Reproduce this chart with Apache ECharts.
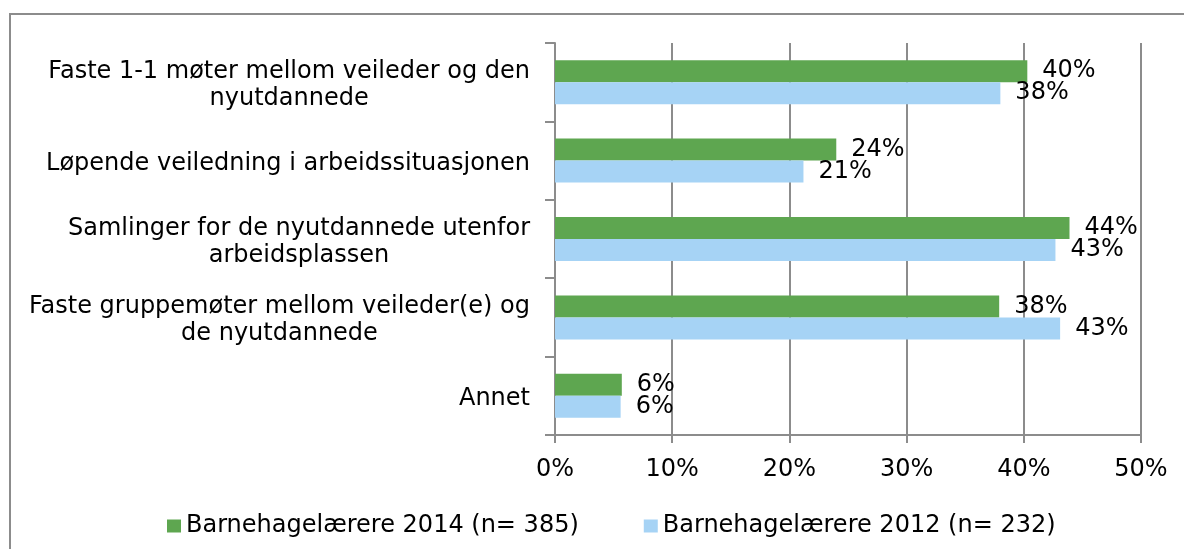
<!DOCTYPE html>
<html>
<head>
<meta charset="utf-8">
<script src="https://cdn.jsdelivr.net/npm/echarts@6/dist/echarts.min.js"></script>
<style>
  html, body { margin: 0; padding: 0; background: #fff; }
  #chart { width: 1184px; height: 549px; }
</style>
</head>
<body>
<div id="chart"></div>
<script>
// kategorier, ovenfra og ned
const categories = [
  'Faste 1-1 møter mellom veileder og den\nnyutdannede',
  'Løpende veiledning i arbeidssituasjonen',
  'Samlinger for de nyutdannede utenfor\narbeidsplassen',
  'Faste gruppemøter mellom veileder(e) og\nde nyutdannede',
  'Annet'
];
const seriesNames = ['Barnehagelærere 2014 (n= 385)', 'Barnehagelærere 2012 (n= 232)'];
const values2014 = [40.3, 24.0, 43.9, 37.9, 5.7];
const values2012 = [38.0, 21.2, 42.7, 43.1, 5.6];
const xTicks = [0, 10, 20, 30, 40, 50];

const FONT = '"DejaVu Sans", sans-serif';
const FS = 24;
const gray = '#8c8c8c';

const chart = echarts.init(document.getElementById('chart'));

const labelStyle = {
  show: true,
  position: 'right',
  distance: 15,
  color: '#000',
  fontFamily: FONT,
  fontSize: FS,
  formatter: p => Math.round(p.value) + '%'
};

chart.setOption({
  animation: false,
  textStyle: { fontFamily: FONT },
  graphic: [{
    type: 'rect',
    shape: { x: 10, y: 14, width: 1200, height: 600 },
    style: { fill: 'none', stroke: gray, lineWidth: 2 },
    silent: true
  }],
  legend: {
    top: 509,
    left: 162,
    icon: 'rect',
    itemWidth: 14,
    itemHeight: 13,
    itemGap: 65,
    textStyle: { fontFamily: FONT, fontSize: FS, color: '#000' },
    data: seriesNames
  },
  grid: { left: 555, right: 43, top: 43, bottom: 114, containLabel: false },
  xAxis: {
    type: 'value',
    min: xTicks[0],
    max: xTicks[xTicks.length - 1],
    interval: 10,
    axisLine: { show: true, lineStyle: { color: gray, width: 2 } },
    axisTick: { show: true, length: 8, lineStyle: { color: gray, width: 2 } },
    splitLine: { show: true, lineStyle: { color: gray, width: 2 } },
    axisLabel: {
      margin: 23,
      color: '#000',
      fontFamily: FONT,
      fontSize: FS,
      formatter: v => v + '%'
    }
  },
  yAxis: {
    type: 'category',
    inverse: true,
    data: categories,
    axisLine: { show: true, lineStyle: { color: gray, width: 2 } },
    axisTick: { show: true, length: 10, lineStyle: { color: gray, width: 2 } },
    axisLabel: {
      margin: 25,
      color: '#000',
      fontFamily: FONT,
      fontSize: FS,
      padding: [6, 0, 0, 0],
      formatter: v => v.split('\n').map(l => '{c|' + l + '}').join('\n'),
      rich: {
        c: { align: 'center', fontFamily: FONT, fontSize: FS, lineHeight: 27, color: '#000' }
      }
    }
  },
  series: [
    {
      name: seriesNames[0],
      type: 'bar',
      data: values2014,
      barWidth: 22,
      barGap: '0%',
      itemStyle: { color: '#5ea650' },
      label: labelStyle
    },
    {
      name: seriesNames[1],
      type: 'bar',
      data: values2012,
      barWidth: 22,
      barGap: '0%',
      itemStyle: { color: '#a6d3f5' },
      label: labelStyle
    }
  ]
});
</script>
</body>
</html>
